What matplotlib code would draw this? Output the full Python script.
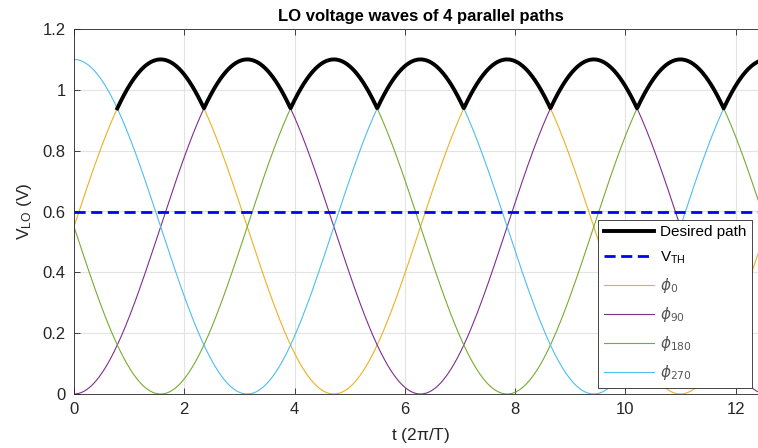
import numpy as np
import matplotlib
matplotlib.use("Agg")
import matplotlib.pyplot as plt

plt.rcParams['font.family'] = ['Liberation Sans', 'DejaVu Sans']
plt.rcParams['mathtext.default'] = 'regular'

# LO waves: V = offset + amp * sin(t - phase)
amp = 0.55
offset = 0.55
phases_deg = [0, 90, 180, 270]
labels = [r'$\it{\phi}_{0}$', r'$\it{\phi}_{90}$', r'$\it{\phi}_{180}$', r'$\it{\phi}_{270}$']
colors = ['#EDB120', '#7E2F8E', '#77AC30', '#4DBEEE']
v_th = 0.6
path_start = np.pi / 4  # desired path drawn from first crossing

t = np.linspace(0, 4 * np.pi, 2000)
waves = [offset + amp * np.sin(t - np.deg2rad(p)) for p in phases_deg]
desired = np.max(waves, axis=0)
desired = np.where(t >= path_start, desired, np.nan)

fig = plt.figure(figsize=(7.58, 4.48), dpi=100)
ax = fig.add_axes([74 / 758, 54 / 448, 693 / 758, 365 / 448])

ax.plot(t, desired, color='black', lw=2.8, label='Desired path', zorder=5)
ax.axhline(v_th, color='#0000FF', lw=2, ls=(0, (4, 2)), label='V$_{TH}$', zorder=4)
for w, lab, c in zip(waves, labels, colors):
    ax.plot(t, w, color=c, lw=0.8, label=lab)

ax.set_xlim(0, 4 * np.pi)
ax.set_ylim(0, 1.2)
ax.set_xticks(np.arange(0, 13, 2))
ax.set_yticks(np.arange(0, 1.21, 0.2))
ax.set_yticklabels(['0', '0.2', '0.4', '0.6', '0.8', '1', '1.2'])
ax.grid(True, color='#e3e3e3', lw=0.8)
ax.set_axisbelow(True)
for s in ax.spines.values():
    s.set_color('#262626')
    s.set_linewidth(0.6)
ax.tick_params(direction='in', top=True, right=True, length=4, width=0.6,
               colors='#262626', labelsize=12, pad=6)

ax.set_title('LO voltage waves of 4 parallel paths', fontsize=12, fontweight='bold', pad=6)
ax.set_xlabel(r't (2$\pi$/T)', fontsize=12.5, color='#262626', labelpad=6)
ax.set_ylabel('V$_{LO}$ (V)', fontsize=12.5, color='#262626', labelpad=6)

leg = fig.legend(loc='upper right', bbox_to_anchor=(752 / 758, 1 - 220 / 448),
                 fontsize=11, frameon=True, fancybox=False,
                 handlelength=3.3, handletextpad=0.4, labelspacing=0.66,
                 borderpad=0.35, borderaxespad=0)
leg.get_frame().set_edgecolor('#262626')
leg.get_frame().set_linewidth(0.6)
leg.get_frame().set_alpha(1)
for txt in leg.get_texts()[2:]:
    txt.set_color('#555555')

fig.savefig('out.png', dpi=100)
